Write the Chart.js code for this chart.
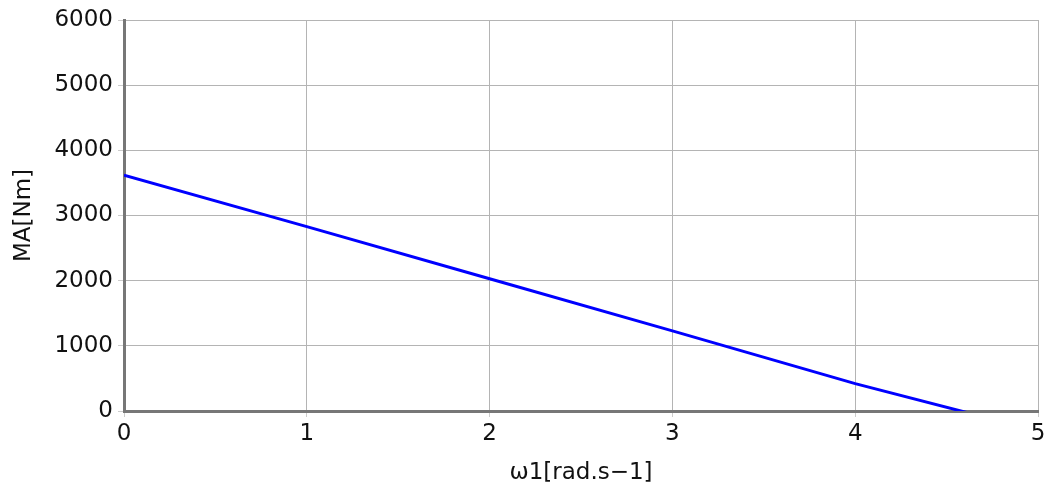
<!DOCTYPE html>
<html>
<head>
<meta charset="utf-8">
<script src="https://cdn.jsdelivr.net/npm/chart.js@4/dist/chart.umd.min.js"></script>
<style>
  html, body { margin: 0; padding: 0; background: #fff; }
  #wrap { width: 1052px; height: 491px; }
</style>
</head>
<body>
<div id="wrap"><canvas id="chart"></canvas></div>
<script>
// values
const omega = [0, 1, 2, 3, 4, 4.62];
const torque = [3620, 2830, 2030, 1230, 420, -30];
const xTicks = [0, 1, 2, 3, 4, 5];
const yTicks = [0, 1000, 2000, 3000, 4000, 5000, 6000];

const points = omega.map((x, i) => ({ x: x, y: torque[i] }));

const gridStyle = {
  color: '#b4b4b4',
  lineWidth: 1,
  tickLength: 6,
  tickColor: '#cccccc'
};
const borderStyle = { color: '#777777', width: 3 };
const tickFont = { family: 'DejaVu Sans', size: 23 };

new Chart(document.getElementById('chart').getContext('2d'), {
  type: 'scatter',
  data: {
    datasets: [{
      label: 'MA',
      data: points,
      showLine: true,
      borderColor: '#0000ff',
      borderWidth: 3,
      pointRadius: 0,
      fill: false
    }]
  },
  options: {
    responsive: true,
    maintainAspectRatio: false,
    animation: false,
    layout: { padding: { top: 20, right: 14, left: 0, bottom: 0 } },
    plugins: {
      legend: { display: false },
      tooltip: { enabled: false }
    },
    scales: {
      x: {
        type: 'linear',
        min: 0,
        max: 5,
        afterBuildTicks: s => { s.ticks = xTicks.map(v => ({ value: v })); },
        afterFit: s => { s.height = 80; },
        grid: gridStyle,
        border: borderStyle,
        ticks: { font: tickFont, color: '#111', padding: 3, maxRotation: 0, callback: v => String(v) },
        title: {
          display: true,
          text: 'ω1[rad.s−1]',
          font: { family: 'DejaVu Sans', size: 23 },
          color: '#111',
          padding: { top: 0 }
        }
      },
      y: {
        type: 'linear',
        min: 0,
        max: 6000,
        afterBuildTicks: s => { s.ticks = yTicks.map(v => ({ value: v })); },
        afterFit: s => { s.width = 124; },
        grid: gridStyle,
        border: borderStyle,
        ticks: { font: tickFont, color: '#111', padding: 5, callback: v => String(v) },
        title: {
          display: true,
          text: 'MA[Nm]',
          font: { family: 'DejaVu Sans', size: 23 },
          color: '#111',
          padding: { top: 10, bottom: 4 }
        }
      }
    }
  }
});
</script>
</body>
</html>
